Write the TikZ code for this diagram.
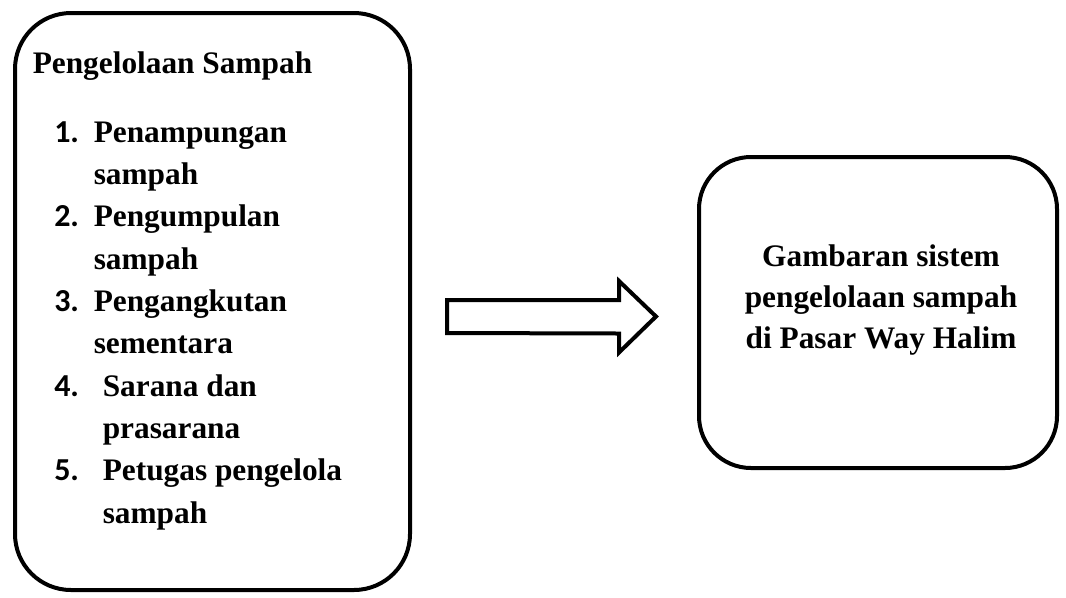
\documentclass[tikz,border=0pt]{standalone}
\usepackage{fontspec}
\setmainfont{Liberation Serif}
\newfontfamily\numfont{Carlito}
\usepackage{tikz}
\usetikzlibrary{shapes,arrows}
\usetikzlibrary{calc}
\tikzstyle{roundblock} = [rectangle, draw, line width=3pt, inner sep=0pt]
\tikzstyle{boldtext} = [anchor=base west, inner sep=0pt,
    font=\bfseries\fontsize{23.5}{31}\selectfont]
\tikzstyle{numtext} = [anchor=base west, inner sep=0pt,
    font=\numfont\bfseries\fontsize{24}{31}\selectfont]
\tikzstyle{centertext} = [anchor=base, inner sep=0pt,
    font=\bfseries\fontsize{23.5}{31}\selectfont]
\tikzstyle{blockarrow} = [draw, line width=3pt, miter limit=4]

\begin{document}
\begin{tikzpicture}[x=0.75pt, y=-0.75pt]
    \useasboundingbox (0,0) rectangle (1066,597);
    % Place nodes
    \node [roundblock, rounded corners=42pt, minimum width=296.25pt, minimum height=432.75pt] (pengelolaan) at (212.5,301.5) {};
    \node [roundblock, rounded corners=39pt, minimum width=268.5pt, minimum height=233.25pt] (gambaran) at (878,312.5) {};
    \node [boldtext] (judul) at (32.5,73) {Pengelolaan Sampah};
    \node [numtext] (n1) at (54,142) {1.};
    \node [boldtext] (t1a) at (93.5,142) {Penampungan};
    \node [boldtext] (t1b) at (93.5,184.3) {sampah};
    \node [numtext] (n2) at (54,226.7) {2.};
    \node [boldtext] (t2a) at (93.5,226.7) {Pengumpulan};
    \node [boldtext] (t2b) at (93.5,269) {sampah};
    \node [numtext] (n3) at (54,311.3) {3.};
    \node [boldtext] (t3a) at (93.5,311.3) {Pengangkutan};
    \node [boldtext] (t3b) at (93.5,353.7) {sementara};
    \node [numtext] (n4) at (54,396) {4.};
    \node [boldtext] (t4a) at (102.5,396) {Sarana dan};
    \node [boldtext] (t4b) at (102.5,438.3) {prasarana};
    \node [numtext] (n5) at (54,480.7) {5.};
    \node [boldtext] (t5a) at (102.5,480.7) {Petugas pengelola};
    \node [boldtext] (t5b) at (102.5,523) {sampah};
    \node [centertext] (g1) at (881,266) {Gambaran sistem};
    \node [centertext] (g2) at (881,307) {pengelolaan sampah};
    \node [centertext] (g3) at (881,348) {di Pasar Way Halim};
    % Draw arrow
    \coordinate (ekor) at (447,316.5);
    \draw [blockarrow] ($(ekor)+(0,-16.5)$) -- ++(172,0) -- ++(0,-19) -- ($(ekor)+(209,0)$)
        -- ($(ekor)+(172,36)$) -- ++(0,-19) -- ($(ekor)+(0,16.5)$) -- cycle;
\end{tikzpicture}
\end{document}
